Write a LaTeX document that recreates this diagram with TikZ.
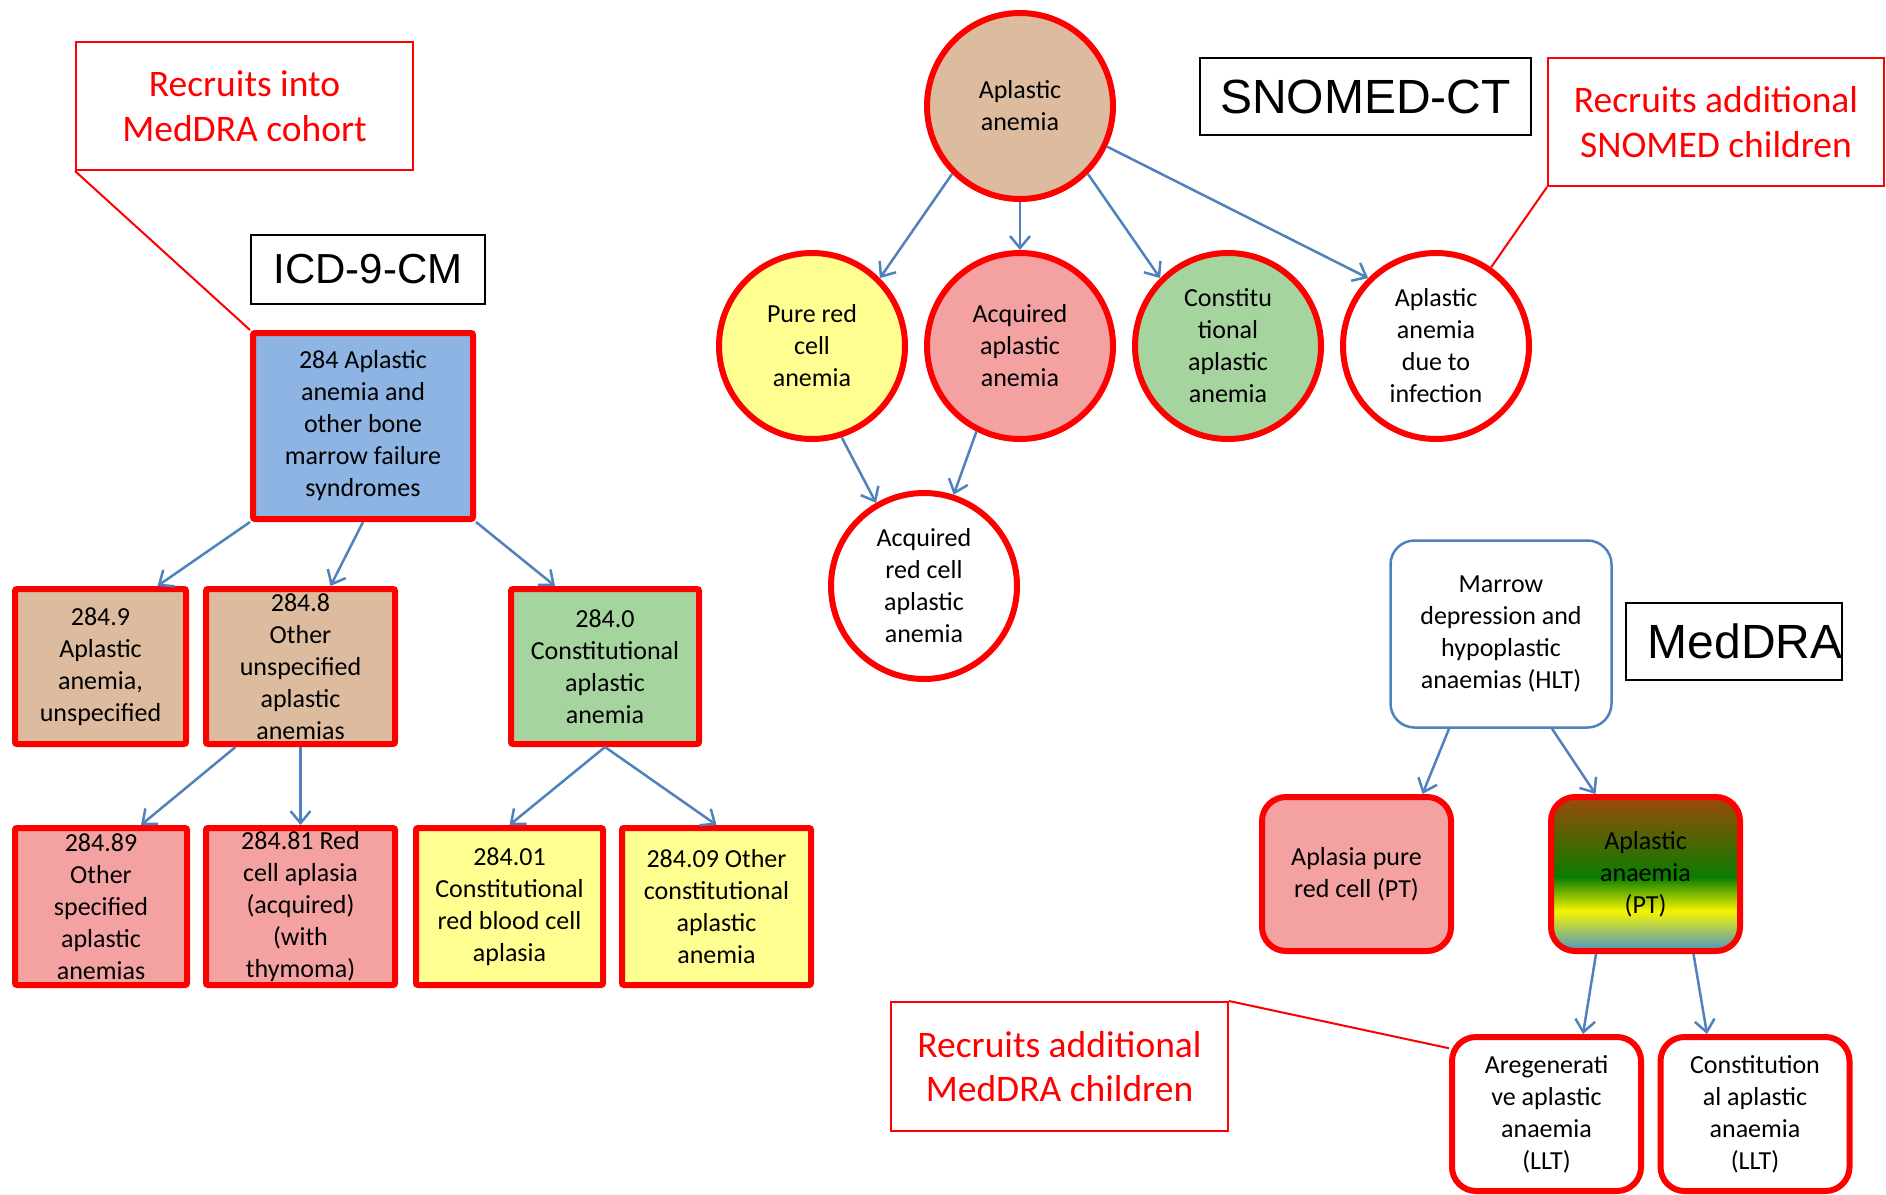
\documentclass[tikz,border=0pt]{standalone}
\usepackage{fontspec}
\setmainfont{Carlito}
\newfontfamily\arialf{Liberation Sans}
\usetikzlibrary{arrows.meta}
\definecolor{cblue}{HTML}{8DB4E2}
\definecolor{cbrown}{HTML}{DDBB9E}
\definecolor{cpink}{HTML}{F3A1A1}
\definecolor{cyel}{HTML}{FFFF91}
\definecolor{cgreen}{HTML}{A6D49E}
\definecolor{arrowblue}{HTML}{4F81BD}
\definecolor{cred}{HTML}{FF0000}
\definecolor{shbrown}{HTML}{9C4A09}
\definecolor{shgreen}{HTML}{0A7D00}
\definecolor{shyellow}{HTML}{F5F500}
\definecolor{shblue}{HTML}{4A94C8}
\pgfdeclareverticalshading{ptshade}{100bp}{color(0bp)=(shblue); color(25bp)=(shblue); color(38bp)=(shyellow); color(49bp)=(shgreen); color(75bp)=(shbrown); color(100bp)=(shbrown)}
\tikzset{
  txt/.style={font=\fontsize{26}{32}\selectfont},
  icd/.style={txt, draw=cred, line width=6pt, rounded corners=2pt, inner sep=0pt, align=center},
  snc/.style={txt, circle, draw=cred, line width=6pt, inner sep=0pt, minimum size=186pt, align=center},
  med/.style={txt, draw=cred, line width=6pt, rounded corners=24pt, inner sep=0pt, minimum width=189pt, minimum height=154pt, align=center},
  callout/.style={draw=cred, line width=2pt, fill=white, text=cred, align=center, font=\fontsize{37.5}{44.5}\selectfont, inner sep=0pt},
  lbl/.style={draw=black, line width=2pt, inner sep=0pt},
  arr/.style={draw=arrowblue, line width=2.5pt, -{Straight Barb[length=12pt,width=20pt]}},
  cline/.style={draw=cred, line width=2pt},
}
\begin{document}
\begin{tikzpicture}[x=1pt,y=-1pt]
\useasboundingbox (0,0) rectangle (1886,1194);
% ---------------- ICD-9-CM ----------------
\node[callout, minimum width=337pt, minimum height=128pt] (cICD) at (244.5,106) {Recruits into\\MedDRA cohort};
\node[lbl, minimum width=234pt, minimum height=69pt, font=\arialf\fontsize{42}{48}\selectfont] (lICD) at (368,269.5) {ICD-9-CM};
\node[icd, fill=cblue, minimum width=220pt, minimum height=186pt] (n284) at (363,426) {284 Aplastic\\anemia and\\other bone\\marrow failure\\syndromes};
\node[icd, fill=cbrown, minimum width=171pt, minimum height=155pt] (n2849) at (100.5,666.5) {284.9\\Aplastic\\anemia,\\unspecified};
\node[icd, fill=cbrown, minimum width=189pt, minimum height=155pt] (n2848) at (300.5,666.5) {284.8\\Other\\unspecified\\aplastic\\anemias};
\node[icd, fill=cgreen, minimum width=188pt, minimum height=155pt] (n2840) at (605,666.5) {284.0\\Constitutional\\aplastic\\anemia};
\node[icd, fill=cpink, minimum width=172pt, minimum height=157pt] (n28489) at (101,906.5) {284.89\\Other\\specified\\aplastic\\anemias};
\node[icd, fill=cpink, minimum width=189pt, minimum height=157pt] (n28481) at (300.5,906.5) {284.81 Red\\cell aplasia\\(acquired)\\(with\\thymoma)};
\node[icd, fill=cyel, minimum width=187pt, minimum height=157pt] (n28401) at (509.5,906.5) {284.01\\Constitutional\\red blood cell\\aplasia};
\node[icd, fill=cyel, minimum width=189pt, minimum height=157pt] (n28409) at (716.5,906.5) {284.09 Other\\constitutional\\aplastic\\anemia};
\draw[cline] (cICD.south west) -- (n284.north west);
\draw[arr] (n284.south west) -- ([xshift=57pt]n2849.north);
\draw[arr] (n284.south) -- ([xshift=30pt]n2848.north);
\draw[arr] (n284.south east) -- ([xshift=-50pt]n2840.north);
\draw[arr] ([xshift=-65pt]n2848.south) -- ([xshift=40pt]n28489.north);
\draw[arr] (n2848.south) -- (n28481.north);
\draw[arr] (n2840.south) -- (n28401.north);
\draw[arr] (n2840.south) -- (n28409.north);
% ---------------- SNOMED-CT ----------------
\node[lbl, minimum width=331pt, minimum height=77pt, font=\arialf\fontsize{48}{54}\selectfont] (lSN) at (1365.5,96.5) {SNOMED-CT};
\node[callout, minimum width=336pt, minimum height=128pt] (cSN) at (1716,122) {Recruits additional\\SNOMED children};
\node[snc, fill=cbrown] (sA) at (1020,106) {Aplastic\\anemia};
\node[snc, fill=cyel] (sP) at (812,346) {Pure red\\cell\\anemia};
\node[snc, fill=cpink] (sAq) at (1020,346) {Acquired\\aplastic\\anemia};
\node[snc, fill=cgreen] (sC) at (1228,346) {Constitu\\tional\\aplastic\\anemia};
\node[snc, fill=white] (sI) at (1436,346) {Aplastic\\anemia\\due to\\infection};
\node[snc, fill=white] (sR) at (924,586) {Acquired\\red cell\\aplastic\\anemia};
\draw[cline] (cSN.south west) -- (sI.55);
\draw[arr] (sA.225) -- (sP.45);
\draw[arr] (sA.south) -- (sAq.north);
\draw[arr] (sA.315) -- (sC.135);
\draw[arr] (sA.335) -- (sI.135);
\draw[arr] (sP.288) -- (sR.120);
\draw[arr] (sAq.243) -- (sR.72);
% ---------------- MedDRA ----------------
\node[txt, draw=arrowblue, line width=2.5pt, rounded corners=24pt, inner sep=0pt, minimum width=221pt, minimum height=187pt, align=center, fill=white] (mH) at (1501,634) {Marrow\\depression and\\hypoplastic\\anaemias (HLT)};
\node[lbl, minimum width=214pt, minimum height=77pt, font=\arialf\fontsize{48}{54}\selectfont] (lMed) at (1734,641.5) {\hspace*{22pt}MedDRA};
\node[med, fill=cpink] (mA) at (1356.5,874) {Aplasia pure\\red cell (PT)};
\node[med, shading=ptshade] (mB) at (1645.5,874) {Aplastic\\anaemia\\(PT)};
\node[med, fill=white] (mC) at (1546.5,1114) {Aregenerati\\ve aplastic\\anaemia\\(LLT)};
\node[med, fill=white] (mD) at (1755,1114) {Constitution\\al aplastic\\anaemia\\(LLT)};
\node[callout, minimum width=337pt, minimum height=129pt] (cMed) at (1059.5,1066.5) {Recruits additional\\MedDRA children};
\draw[cline] (cMed.north east) -- (mC.146);
\draw[arr] ([xshift=-52pt]mH.south) -- ([xshift=66pt]mA.north);
\draw[arr] ([xshift=51pt]mH.south) -- ([xshift=-50pt]mB.north);
\draw[arr] ([xshift=-49.5pt]mB.south) -- ([xshift=36.5pt]mC.north);
\draw[arr] ([xshift=48pt]mB.south) -- ([xshift=-48pt]mD.north);
\end{tikzpicture}
\end{document}
